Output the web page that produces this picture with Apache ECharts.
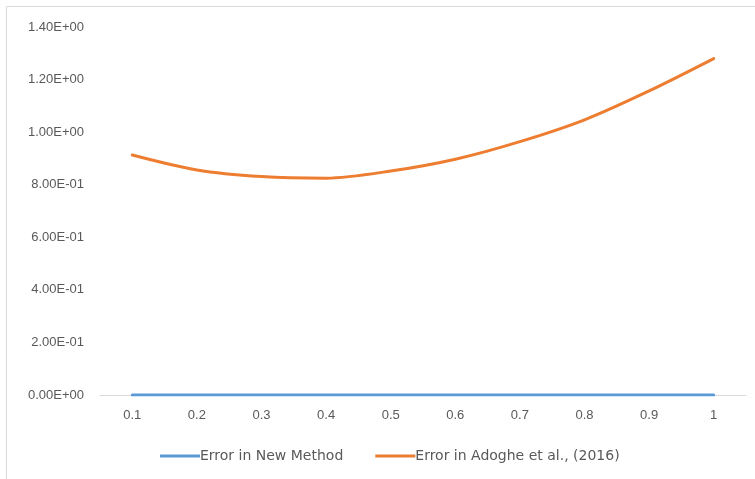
<!DOCTYPE html>
<html>
<head>
<meta charset="utf-8">
<script src="https://cdn.jsdelivr.net/npm/echarts@6/dist/echarts.min.js"></script>
<style>
  html, body { margin: 0; padding: 0; background: #fff; }
  #chart { width: 755px; height: 479px; }
</style>
</head>
<body>
<div id="chart"></div>
<script>
// x positions (t)
const categories = ['0.1', '0.2', '0.3', '0.4', '0.5', '0.6', '0.7', '0.8', '0.9', '1'];
// absolute error of the proposed scheme
const errorNewMethod = [0, 0, 0, 0, 0, 0, 0, 0, 0, 0];
// absolute error reported by Adoghe et al. (2016)
const errorAdoghe = [0.913, 0.856, 0.831, 0.825, 0.852, 0.897, 0.964, 1.047, 1.157, 1.280];
const seriesNames = ['Error in New Method', 'Error in Adoghe et al., (2016)'];

const axisFont = "'Liberation Sans', Arial, sans-serif";
const legendFont = "'DejaVu Sans', 'Liberation Sans', sans-serif";

function sci(v) {
  // Excel-style scientific notation: 1.40E+00
  const [m, e] = Number(v).toExponential(2).split('e');
  const n = parseInt(e, 10);
  const sign = n < 0 ? '-' : '+';
  const abs = Math.abs(n);
  return m.toUpperCase() + 'E' + sign + (abs < 10 ? '0' + abs : '' + abs);
}

const chart = echarts.init(document.getElementById('chart'));
chart.setOption({
  animation: false,
  backgroundColor: '#ffffff',
  graphic: [{
    type: 'rect',
    shape: { x: 6.5, y: 6.5, width: 800, height: 500 },
    style: { fill: 'none', stroke: '#d9d9d9', lineWidth: 1 },
    silent: true
  }],
  grid: { left: 100, right: 9, top: 27, bottom: 84 },
  legend: {
    bottom: 11,
    left: 155,
    itemWidth: 40,
    itemHeight: 3,
    itemGap: 32,
    icon: 'rect',
    textStyle: { color: '#595959', fontSize: 14, fontFamily: legendFont, padding: [0, 0, 0, -5] },
    data: seriesNames
  },
  xAxis: {
    type: 'category',
    data: categories,
    boundaryGap: true,
    axisLine: { lineStyle: { color: '#d9d9d9', width: 1 } },
    axisTick: { show: false },
    axisLabel: { color: '#595959', fontSize: 13, fontFamily: axisFont, margin: 14 }
  },
  yAxis: {
    type: 'value',
    min: 0,
    max: 1.4,
    interval: 0.2,
    axisLine: { show: false },
    axisTick: { show: false },
    splitLine: { show: false },
    axisLabel: { color: '#595959', fontSize: 13, fontFamily: axisFont, margin: 16, formatter: sci }
  },
  series: [
    {
      name: seriesNames[0],
      type: 'line',
      data: errorNewMethod,
      smooth: 0.3,
      symbol: 'none',
      lineStyle: { color: '#5B9BD5', width: 3, cap: 'round' },
      itemStyle: { color: '#5B9BD5' },
      z: 3
    },
    {
      name: seriesNames[1],
      type: 'line',
      data: errorAdoghe,
      smooth: 0.3,
      symbol: 'none',
      lineStyle: { color: '#ED7D31', width: 3, cap: 'round' },
      itemStyle: { color: '#ED7D31' },
      z: 3
    }
  ]
});
</script>
</body>
</html>
